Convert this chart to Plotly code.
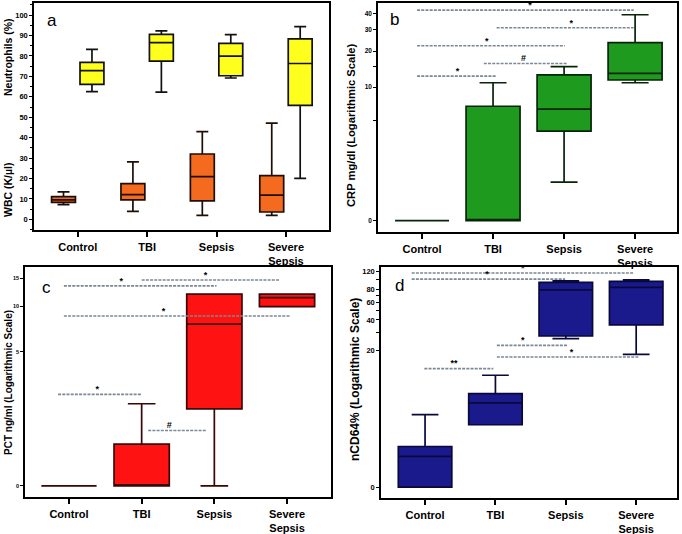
import plotly.graph_objects as go

W, H = 682, 534

groups = ["Control", "TBI", "Sepsis", "Severe<br>Sepsis"]
pos = [0, 1, 2, 3]

# ---------- Panel a: Neutrophils (%) and WBC (K/µl) ----------
neut_lo = [62.5, 62.3, 69.2, 20.1]
neut_q1 = [66.1, 77.5, 70.3, 55.8]
neut_med = [72.8, 86.5, 79.9, 76.3]
neut_q3 = [76.8, 90.5, 86.1, 88.3]
neut_hi = [83.2, 92.3, 90.4, 94.3]

wbc_lo = [7.2, 3.9, 2.0, 2.0]
wbc_q1 = [8.3, 9.5, 9.1, 3.6]
wbc_med = [9.5, 12.1, 20.9, 11.9]
wbc_q3 = [11.1, 17.5, 32.0, 21.4]
wbc_hi = [13.5, 28.1, 42.9, 47.1]

# ---------- Panel b: CRP mg/dl ----------
crp_lo = [0, 0, 1.0, 10.9]
crp_q1 = [0, 0, 4.0, 11.5]
crp_med = [0, 0, 6.4, 13.1]
crp_q3 = [0, 6.8, 12.7, 23.4]
crp_hi = [0, 10.9, 14.9, 39.3]
crp_sig_x0 = [-0.07, 1.05, -0.07, 0.87, -0.07]
crp_sig_x1 = [2.98, 2.98, 2.01, 2.04, 1.05]
crp_sig_y = [42.8, 30.9, 22.1, 15.8, 12.4]
crp_sig_lab = ["*", "*", "*", "#", "*"]
crp_sig_labx = [1.52, 2.1, 0.91, 1.43, 0.5]

# ---------- Panel c: PCT ng/ml ----------
pct_lo = [0, 0, 0, 10.0]
pct_q1 = [0, 0, 1.8, 10.0]
pct_med = [0, 0, 7.7, 11.4]
pct_q3 = [0, 0.75, 12.0, 12.0]
pct_hi = [0, 2.0, 12.0, 12.0]
pct_sig_x0 = [1.0, -0.07, -0.07, -0.15, 1.09]
pct_sig_x1 = [2.9, 2.03, 3.04, 1.0, 1.89]
pct_sig_y = [14.7, 13.5, 8.7, 2.4, 1.1]
pct_sig_lab = ["*", "*", "*", "*", "#"]
pct_sig_labx = [1.88, 0.72, 1.3, 0.39, 1.38]

# ---------- Panel d: nCD64% ----------
cd_lo = [0, 3.0, 26.1, 18.1]
cd_q1 = [0, 3.0, 27.7, 35.7]
cd_med = [0.98, 5.5, 79.0, 83.3]
cd_q3 = [1.47, 7.0, 93.2, 95.3]
cd_hi = [4.0, 11.0, 96.8, 99.0]
cd_sig_x0 = [-0.19, -0.19, 1.02, 1.02, -0.01]
cd_sig_x1 = [2.96, 1.99, 2.02, 3.03, 0.97]
cd_sig_y = [115, 100.4, 22.3, 17.0, 12.9]
cd_sig_lab = ["*", "*", "*", "*", "**"]
cd_sig_labx = [1.39, 0.88, 1.39, 2.08, 0.41]

FONT = "Liberation Sans"
fig = go.Figure()


def p1(v):
    # logarithmic scale of (value + 1), so that 0 can be shown
    return [x + 1 for x in v]


def add_box(lo, q1, med, q3, hi, fill, line, xa, ya, width=None, og=None):
    kw = dict(x=pos, q1=q1, median=med, q3=q3, lowerfence=lo, upperfence=hi,
              fillcolor=fill, line=dict(color=line, width=1.7),
              xaxis=xa, yaxis=ya, boxpoints=False, whiskerwidth=0.5,
              showlegend=False, hoverinfo="skip")
    if width is not None:
        kw["width"] = width
    if og is not None:
        kw["offsetgroup"] = og
        kw["alignmentgroup"] = "a"
    fig.add_trace(go.Box(**kw))


def add_sig(x0, x1, yv, lab, labx, xa, ya):
    xs, ys = [], []
    for a, b, y in zip(x0, x1, yv):
        xs += [a, b, None]
        ys += [y, y, None]
    fig.add_trace(go.Scatter(x=xs, y=ys, mode="lines", xaxis=xa, yaxis=ya,
                             line=dict(color="#7C8896", width=1.6, dash="3px,1.2px"),
                             showlegend=False, hoverinfo="skip"))
    fig.add_trace(go.Scatter(x=labx, y=yv, text=lab, mode="text", textposition="top center",
                             xaxis=xa, yaxis=ya, cliponaxis=False,
                             textfont=dict(family=FONT, size=9, color="black", weight="bold"),
                             showlegend=False, hoverinfo="skip"))


# panel a
add_box(wbc_lo, wbc_q1, wbc_med, wbc_q3, wbc_hi, "#F46A1E", "#1E0E06", "x", "y", og="wbc")
add_box(neut_lo, neut_q1, neut_med, neut_q3, neut_hi, "#FFFF1E", "#111111", "x", "y", og="neut")
# panel b
add_box(p1(crp_lo), p1(crp_q1), p1(crp_med), p1(crp_q3), p1(crp_hi), "#1E9B1E", "#082408", "x2", "y2", width=0.76)
add_sig(crp_sig_x0, crp_sig_x1, p1(crp_sig_y), crp_sig_lab, crp_sig_labx, "x2", "y2")
# panel c
add_box(p1(pct_lo), p1(pct_q1), p1(pct_med), p1(pct_q3), p1(pct_hi), "#FF1212", "#3A0505", "x3", "y3", width=0.76)
add_sig(pct_sig_x0, pct_sig_x1, p1(pct_sig_y), pct_sig_lab, pct_sig_labx, "x3", "y3")
# panel d
add_box(p1(cd_lo), p1(cd_q1), p1(cd_med), p1(cd_q3), p1(cd_hi), "#1A1A8C", "#08083A", "x4", "y4", width=0.76)
add_sig(cd_sig_x0, cd_sig_x1, p1(cd_sig_y), cd_sig_lab, cd_sig_labx, "x4", "y4")


def px_x(v):
    return v / W


def px_y(v):
    return 1 - v / H


def xax(dom, rng, anchor):
    return dict(domain=[px_x(dom[0]), px_x(dom[1])], range=rng, anchor=anchor,
                tickmode="array", tickvals=pos, ticktext=groups,
                ticks="outside", ticklen=5, tickwidth=1.5, tickcolor="black",
                ticklabelstandoff=1,
                tickfont=dict(family=FONT, size=11, color="black", weight="bold"),
                showline=True, linecolor="black", linewidth=1.5, mirror=True,
                showgrid=False, zeroline=False, fixedrange=True)


def yax(dom, anchor, **kw):
    d = dict(domain=[px_y(dom[1]), px_y(dom[0])], anchor=anchor,
             ticks="outside", ticklen=3, tickwidth=1.2, tickcolor="black",
             showline=True, linecolor="black", linewidth=1.5, mirror=True,
             showgrid=False, zeroline=False, fixedrange=True)
    d.update(kw)
    return d


crp_tv = [0, 5, 10, 15, 20, 30, 40]
crp_tt = ["0", "", "10", "", "20", "30", "40"]
pct_tv = [0, 5, 10, 15]
pct_tt = ["0", "5", "10", "15"]
cd_tv = [0, 20, 30, 40, 50, 60, 70, 80, 100, 120]
cd_tt = ["0", "20", "", "40", "", "60", "", "80", "", "120"]

fig.update_layout(
    width=W, height=H, margin=dict(l=0, r=0, t=0, b=0),
    paper_bgcolor="white", plot_bgcolor="white",
    boxmode="group", boxgap=0.18, boxgroupgap=0.16,
    xaxis=xax((34, 329), [-0.63, 3.62], "y"),
    yaxis=yax((3, 230), "x", range=[-5.2, 105.9], dtick=10, tick0=0,
              tickfont=dict(family=FONT, size=7.5, color="black", weight="bold"),
              minor=dict(dtick=5, tick0=0, ticks="outside", ticklen=2, tickcolor="black")),
    xaxis2=xax((378, 677), [-0.62, 3.59], "y2"),
    yaxis2=yax((3, 232), "x2", type="log", range=[-0.088, 1.697],
               tickmode="array", tickvals=p1(crp_tv), ticktext=crp_tt,
               tickfont=dict(family=FONT, size=6.5, color="black", weight="bold")),
    xaxis3=xax((25, 331), [-0.605, 3.605], "y3"),
    yaxis3=yax((267, 497), "x3", type="log", range=[-0.064, 1.271],
               tickmode="array", tickvals=p1(pct_tv), ticktext=pct_tt,
               tickfont=dict(family=FONT, size=5.5, color="black", weight="bold")),
    xaxis4=xax((381, 677), [-0.626, 3.58], "y4"),
    yaxis4=yax((267, 498), "x4", type="log", range=[-0.104, 2.123],
               tickmode="array", tickvals=p1(cd_tv), ticktext=cd_tt,
               tickfont=dict(family=FONT, size=7.5, color="black", weight="bold")),
)

ann = []


def ytitle(text, x, y, size):
    ann.append(dict(text=text, x=px_x(x), y=px_y(y), xref="paper", yref="paper",
                    showarrow=False, textangle=-90, xanchor="center", yanchor="middle",
                    font=dict(family=FONT, size=size, color="black", weight="bold")))


def letter(text, x, y):
    ann.append(dict(text=text, x=px_x(x), y=px_y(y), xref="paper", yref="paper",
                    showarrow=False, xanchor="center", yanchor="middle",
                    font=dict(family=FONT, size=17, color="black")))


ytitle("Neutrophils (%)", 8, 57, 10.5)
ytitle("WBC (K/µl)", 8, 190, 10.5)
ytitle("CRP mg/dl (Logarithmic Scale)", 351, 125, 11.2)
ytitle("PCT ng/ml (Logarithmic Scale)", 8, 383, 10)
ytitle("nCD64% (Logarithmic Scale)", 355, 380, 12)
letter("a", 52, 21)
letter("b", 394, 20)
letter("c", 47, 287)
letter("d", 399, 285)
fig.update_layout(annotations=ann)

fig.write_html("out.html", config={"displayModeBar": False},
               post_script="document.body.style.margin='0px';document.body.style.overflow='hidden';")
